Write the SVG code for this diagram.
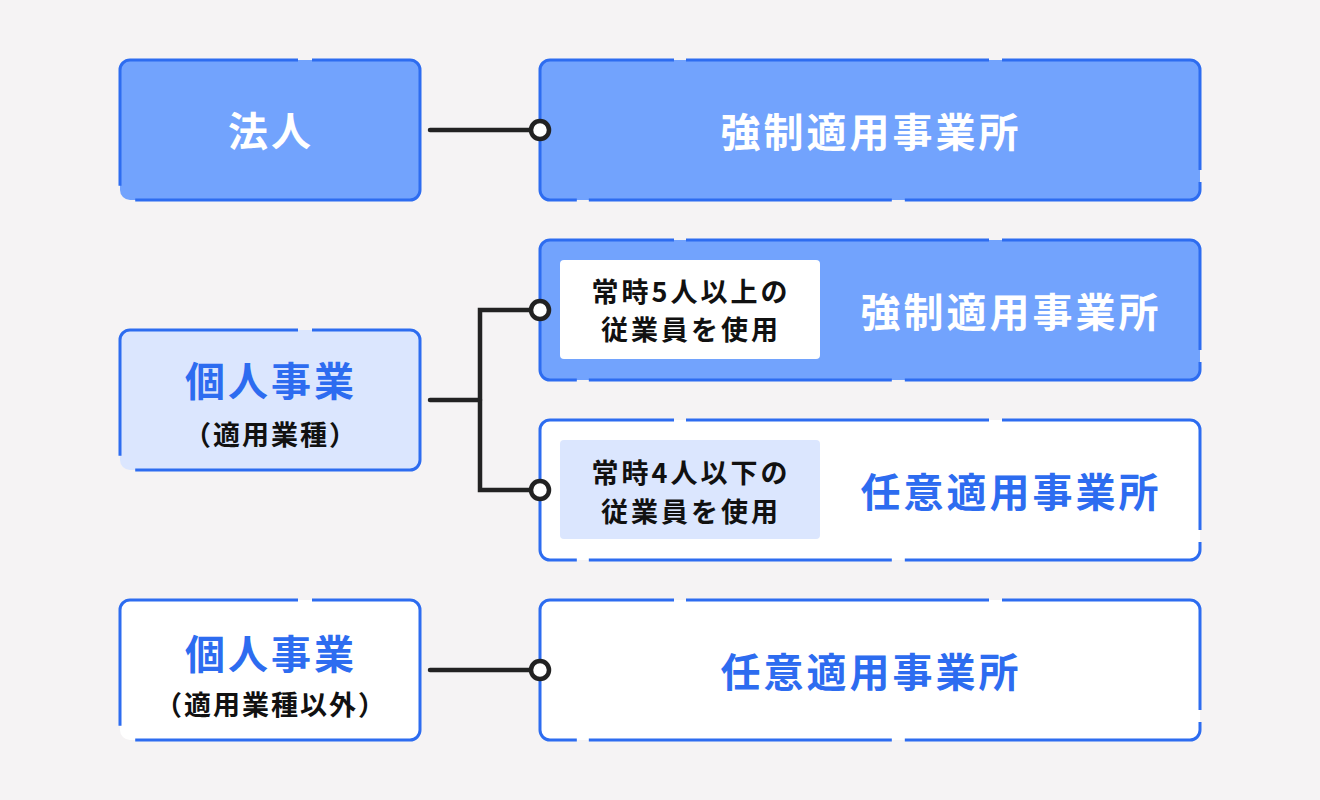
<svg xmlns="http://www.w3.org/2000/svg" width="1320" height="800" viewBox="0 0 1320 800">
<defs>
<style>
.bg{fill:#f5f3f4}
.box{stroke:#2d6cf0;stroke-width:3}
.l{stroke-dasharray:168 14 524 25 200}
.r{stroke-dasharray:124 12 303 13 303.7 12 308.7 13 303 12 200}
.dark{fill:#72a3fd}
.light{fill:#dbe6fe}
.white{fill:#ffffff}
text{font-family:"Noto Sans CJK JP","Noto Sans",sans-serif;font-weight:700;text-anchor:middle}
.big{font-size:40px;letter-spacing:3px}
.wt{fill:#ffffff}
.bt{fill:#2d6cf0}
.sm{font-size:27px;letter-spacing:3px;fill:#111111}
.par{font-size:27px;letter-spacing:2px;fill:#111111}
.conn line,.conn path{stroke:#222222;stroke-width:4.5;stroke-linecap:round;fill:none}
.conn circle{fill:#ffffff;stroke:#222222;stroke-width:4.5}
</style>
</defs>
<rect class="bg" x="0" y="0" width="1320" height="800"/>

<g id="n-houjin">
<rect class="box l dark" x="120" y="60" width="300" height="140" rx="10"/>
<text class="big wt" x="271" y="146">法人</text>
</g>
<g id="n-kyousei1">
<rect class="box r dark" x="540" y="60" width="660" height="140" rx="10"/>
<text class="big wt" x="871" y="147">強制適用事業所</text>
</g>
<g id="n-kojin1">
<rect class="box l light" x="120" y="330" width="300" height="140" rx="10"/>
<text class="big bt" x="271" y="396">個人事業</text>
<text class="par" x="271" y="445">（適用業種）</text>
</g>
<g id="n-kyousei2">
<rect class="box r dark" x="540" y="240" width="660" height="140" rx="10"/>
<rect class="white" x="560" y="260" width="260" height="99" rx="4"/>
<text class="sm" x="691" y="302">常時5人以上の</text>
<text class="sm" x="691" y="340">従業員を使用</text>
<text class="big wt" x="1011" y="327">強制適用事業所</text>
</g>
<g id="n-nini1">
<rect class="box r white" x="540" y="420" width="660" height="140" rx="10"/>
<rect class="light" x="560" y="440" width="260" height="99" rx="4"/>
<text class="sm" x="691" y="483">常時4人以下の</text>
<text class="sm" x="691" y="522">従業員を使用</text>
<text class="big bt" x="1011" y="507">任意適用事業所</text>
</g>
<g id="n-kojin2">
<rect class="box l white" x="120" y="600" width="300" height="140" rx="10"/>
<text class="big bt" x="271" y="669">個人事業</text>
<text class="par" x="271" y="715">（適用業種以外）</text>
</g>
<g id="n-nini2">
<rect class="box r white" x="540" y="600" width="660" height="140" rx="10"/>
<text class="big bt" x="871" y="687">任意適用事業所</text>
</g>

<g id="connectors" class="conn">
<line x1="430" y1="130" x2="540" y2="130"/>
<circle cx="540" cy="130" r="9"/>
<line x1="430" y1="400" x2="480" y2="400"/>
<path d="M540 310 H480 V490 H540"/>
<circle cx="540" cy="310" r="9"/>
<circle cx="540" cy="490" r="9"/>
<line x1="430" y1="670" x2="540" y2="670"/>
<circle cx="540" cy="670" r="9"/>
</g>
</svg>
